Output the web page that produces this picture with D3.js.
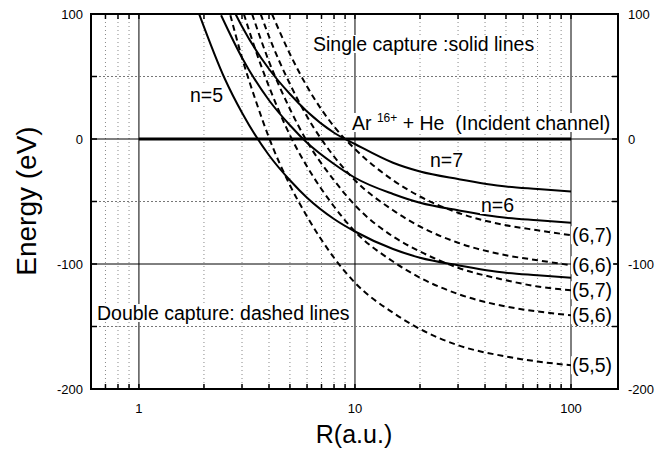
<!DOCTYPE html>
<html lang="en">
<head>
<meta charset="UTF-8">
<title>Potential energy curves</title>
<script src="https://d3js.org/d3.v7.min.js"></script>
<style>
  body { margin: 0; background: #fff; }
  text { font-family: "Liberation Sans", Arial, sans-serif; fill: #000; }
</style>
</head>
<body>
<div id="chart"></div>
<script>
// single capture (solid lines)
const rN5 = [1.9, 2.5, 3, 4, 5, 6, 8, 10, 15, 20, 30, 50, 70, 100];
const eN5 = [100, 48, 21, -13, -33, -47, -64, -74, -88, -95, -101, -107, -109, -111];
const rN6 = [2.4, 3, 4, 5, 6, 8, 10, 15, 20, 30, 50, 70, 100];
const eN6 = [99, 65, 31, 11, -3, -20, -31, -44, -51, -57, -63, -65, -67];
const rN7 = [2.8, 3, 4, 5, 6, 8, 10, 15, 20, 30, 50, 70, 100];
const eN7 = [100, 90, 56, 36, 22, 5, -4, -19, -26, -32, -38, -40, -42];

// double capture (dashed lines)
const r55 = [2.65, 3, 3.5, 4, 5, 6, 8, 10, 15, 20, 30, 50, 70, 100];
const e55 = [99, 65, 29, 1, -37, -62, -95, -115, -139, -152, -165, -174, -178, -181];
const r56 = [3.06, 3.5, 4, 5, 6, 8, 10, 15, 20, 30, 50, 70, 100];
const e56 = [100, 69, 42, 3, -22, -54, -74, -98, -111, -124, -134, -138, -141];
const r57 = [3.34, 4, 5, 6, 8, 10, 15, 20, 30, 50, 70, 100];
const e57 = [100, 62, 24, -2, -33, -53, -78, -90, -103, -113, -118, -121];
const r66 = [3.66, 4, 5, 6, 8, 10, 15, 20, 30, 50, 70, 100];
const e66 = [100, 82, 44, 18, -14, -33, -57, -70, -83, -93, -97, -101];
const r67 = [4.13, 5, 6, 8, 10, 15, 20, 30, 50, 70, 100];
const e67 = [100, 68, 42, 10, -8, -33, -46, -59, -69, -73, -77];

const doubleLabels = ["(6,7)", "(6,6)", "(5,7)", "(5,6)", "(5,5)"];
const yTicks = [100, 0, -100, -200];
const xTicks = [1, 10, 100];
const minorX = [0.7, 0.8, 0.9, 2, 3, 4, 5, 6, 7, 8, 9, 20, 30, 40, 50, 60, 70, 80, 90];
const dottedY = [50, -50, -150];
const solidY = [0, -100];

const zip = (rs, es) => rs.map((r, i) => ({ r: r, e: es[i] }));
const singles = [
  { name: "n=5", pts: zip(rN5, eN5) },
  { name: "n=6", pts: zip(rN6, eN6) },
  { name: "n=7", pts: zip(rN7, eN7) }
];
const doubles = [
  { name: doubleLabels[0], pts: zip(r67, e67) },
  { name: doubleLabels[1], pts: zip(r66, e66) },
  { name: doubleLabels[2], pts: zip(r57, e57) },
  { name: doubleLabels[3], pts: zip(r56, e56) },
  { name: doubleLabels[4], pts: zip(r55, e55) }
];

const W = 670, H = 455;
const margin = { top: 14, right: 52, bottom: 66, left: 91 };
const x0 = margin.left, x1 = W - margin.right;
const y0 = margin.top, y1 = H - margin.bottom;

const svg = d3.select("#chart").append("svg")
  .attr("width", W).attr("height", H);

const x = d3.scaleLog().domain([0.6, 165]).range([x0, x1]);
const y = d3.scaleLinear().domain([-200, 100]).range([y1, y0]);

svg.append("defs").append("clipPath").attr("id", "clip")
  .append("rect").attr("x", x0).attr("y", y0).attr("width", x1 - x0).attr("height", y1 - y0);

// grid
const grid = svg.append("g");
grid.selectAll(".vmin").data(minorX).enter().append("line")
  .attr("x1", d => x(d)).attr("x2", d => x(d)).attr("y1", y0).attr("y2", y1)
  .attr("stroke", "#888").attr("stroke-width", 1).attr("stroke-dasharray", "1,3");
grid.selectAll(".vmaj").data(xTicks).enter().append("line")
  .attr("x1", d => x(d)).attr("x2", d => x(d)).attr("y1", y0).attr("y2", y1)
  .attr("stroke", "#000").attr("stroke-width", 1);
grid.selectAll(".hdot").data(dottedY).enter().append("line")
  .attr("x1", x0).attr("x2", x1).attr("y1", d => y(d)).attr("y2", d => y(d))
  .attr("stroke", "#777").attr("stroke-width", 1).attr("stroke-dasharray", "2,2");
grid.selectAll(".hsol").data(solidY).enter().append("line")
  .attr("x1", x0).attr("x2", x1).attr("y1", d => y(d)).attr("y2", d => y(d))
  .attr("stroke", "#000").attr("stroke-width", 1);

// tick marks (inward) on all four sides
const tk = svg.append("g").attr("stroke", "#000").attr("stroke-width", 1.5);
minorX.concat(xTicks).forEach(v => {
  tk.append("line").attr("x1", x(v)).attr("x2", x(v)).attr("y1", y1).attr("y2", y1 - 5);
  tk.append("line").attr("x1", x(v)).attr("x2", x(v)).attr("y1", y0).attr("y2", y0 + 5);
});
dottedY.concat(solidY).forEach(v => {
  tk.append("line").attr("x1", x0).attr("x2", x0 + 6).attr("y1", y(v)).attr("y2", y(v));
  tk.append("line").attr("x1", x1).attr("x2", x1 - 6).attr("y1", y(v)).attr("y2", y(v));
});

const plot = svg.append("g").attr("clip-path", "url(#clip)");

// incident channel
plot.append("line")
  .attr("x1", x(1)).attr("x2", x(100)).attr("y1", y(0)).attr("y2", y(0))
  .attr("stroke", "#000").attr("stroke-width", 3);

const line = d3.line().x(d => x(d.r)).y(d => y(d.e)).curve(d3.curveMonotoneX);

plot.selectAll(".single").data(singles).enter().append("path")
  .attr("d", d => line(d.pts))
  .attr("fill", "none").attr("stroke", "#000").attr("stroke-width", 2);

plot.selectAll(".double").data(doubles).enter().append("path")
  .attr("d", d => line(d.pts))
  .attr("fill", "none").attr("stroke", "#000").attr("stroke-width", 2)
  .attr("stroke-dasharray", "6,4");

// labels with white background
function boxed(tx, ty, size, build) {
  const g = svg.append("g");
  const bg = g.append("rect").attr("fill", "#fff");
  const t = g.append("text").attr("x", tx).attr("y", ty).attr("font-size", size);
  build(t);
  const b = t.node().getBBox();
  bg.attr("x", b.x - 1).attr("y", b.y + 2).attr("width", b.width + 2).attr("height", b.height - 4);
  return t;
}

boxed(313, 51, 19.5, t => t.text("Single capture :solid lines"));
boxed(97, 320, 19.5, t => t.text("Double capture: dashed lines"));
boxed(352, 130, 19.5, t => {
  t.append("tspan").text("Ar ");
  t.append("tspan").attr("font-size", 12).attr("dy", -8).text("16+");
  t.append("tspan").attr("dy", 8).text(" + He\u00a0\u00a0(Incident channel)");
});
boxed(190, 102, 19.5, t => t.text("n=5"));
boxed(481, 212, 19.5, t => t.text("n=6"));
boxed(430, 167, 19.5, t => t.text("n=7"));

doubles.forEach(d => {
  const last = d.pts[d.pts.length - 1];
  boxed(x(last.r) + 1, y(last.e) + 7, 19.5, t => t.text(d.name));
});

// frame
svg.append("rect").attr("x", x0).attr("y", y0).attr("width", x1 - x0).attr("height", y1 - y0)
  .attr("fill", "none").attr("stroke", "#000").attr("stroke-width", 2);

// tick labels
svg.selectAll(".yl").data(yTicks).enter().append("text")
  .attr("x", x0 - 8).attr("y", d => y(d) + 5).attr("text-anchor", "end")
  .attr("font-size", 13).text(d => d);
svg.selectAll(".yr").data(yTicks).enter().append("text")
  .attr("x", x1 + 10).attr("y", d => y(d) + 5).attr("text-anchor", "start")
  .attr("font-size", 13).text(d => d);
svg.selectAll(".xl").data(xTicks).enter().append("text")
  .attr("x", d => x(d)).attr("y", y1 + 24).attr("text-anchor", "middle")
  .attr("font-size", 13).text(d => d);

// axis titles
svg.append("text").attr("x", 354).attr("y", 443).attr("text-anchor", "middle")
  .attr("font-size", 25).text("R(a.u.)");
svg.append("text").attr("transform", "translate(36,201) rotate(-90)")
  .attr("text-anchor", "middle").attr("font-size", 28).text("Energy (eV)");
</script>
</body>
</html>
